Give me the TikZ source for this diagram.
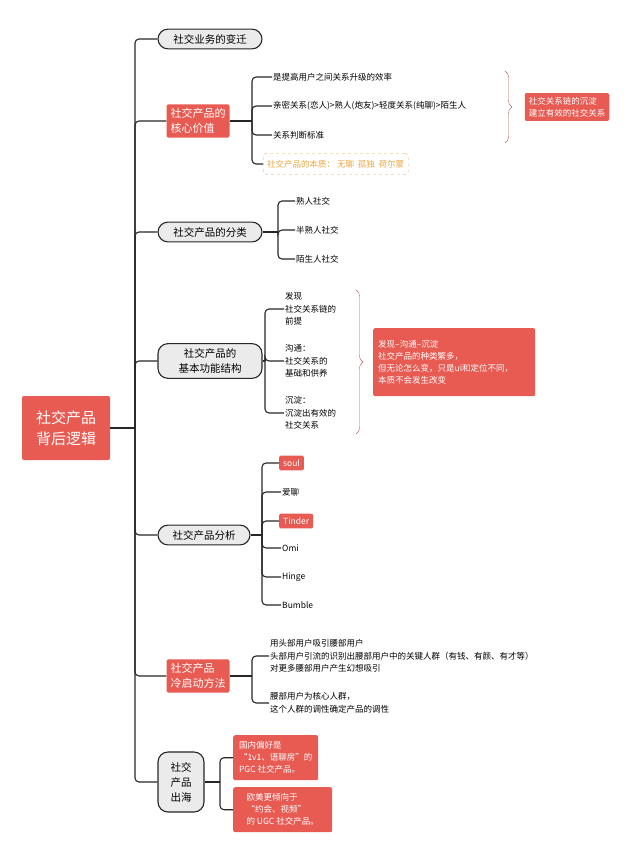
\documentclass[tikz,border=0pt]{standalone}
\usepackage{fontspec}
\setmainfont{Noto Sans CJK SC}
\usetikzlibrary{decorations.pathreplacing}
\definecolor{rd}{HTML}{E85B53}
\definecolor{gy}{HTML}{EBEBEB}
\definecolor{brc}{HTML}{B06060}
\definecolor{org}{HTML}{E8A640}
\begin{document}
\begin{tikzpicture}[x=1pt,y=-1pt,
  red/.style={fill=rd,text=white,rounded corners=2pt,inner sep=4pt,align=left,font=\fontsize{11}{15}\selectfont},
  redsm/.style={fill=rd,text=white,rounded corners=2pt,inner sep=4pt,align=left,font=\fontsize{8.5}{12}\selectfont},
  gray/.style={fill=gy,draw=black!85,line width=1.1pt,rounded corners=10pt,inner sep=5pt,align=center,font=\fontsize{10.5}{15}\selectfont},
  leaf/.style={anchor=west,inner sep=1pt,align=left,font=\fontsize{8.5}{12.5}\selectfont},
  ln/.style={draw=black!85,line width=1.1pt,rounded corners=4pt},
  br/.style={draw=brc,decorate,decoration={brace,amplitude=7pt}}]
\useasboundingbox (0,0) rectangle (640,856);
\node[red,font=\fontsize{15}{21}\selectfont,minimum width=88,minimum height=64,align=center] (root) at (66,428) {社交产品\\背后逻辑};
\node[gray,minimum width=104] (c1) at (210,39) {社交业务的变迁};
\node[red] (c2) at (198,121) {社交产品的\\核心价值};
\node[gray,minimum width=104] (c3) at (210,232) {社交产品的分类};
\node[gray,minimum width=104] (c4) at (210,361) {社交产品的\\基本功能结构};
\node[gray,minimum width=92] (c5) at (204,535) {社交产品分析};
\node[red] (c6) at (198,676) {社交产品\\冷启动方法};
\node[gray,minimum width=46,minimum height=60] (c7) at (181,782) {社交\\产品\\出海};
\coordinate (sp) at (135,428);
\draw[ln] (root.east) -- (sp);
\foreach \c in {c1,c2,c3,c4,c5,c6,c7} \draw[ln] (sp) |- (\c.west);
% c2
\node[leaf] (a1) at (272,77) {是提高用户之间关系升级的效率};
\node[leaf] (a2) at (272,106) {亲密关系(恋人)>熟人(炮友)>轻度关系(纯聊)>陌生人};
\node[leaf] (a3) at (272,135) {关系判断标准};
\node[leaf,draw=org,dashed,rounded corners=3pt,text=org,inner sep=4pt,minimum height=21] (a4) at (263,164) {社交产品的本质：\ 无聊\ \ 孤独\ \ 荷尔蒙};
\coordinate (b2) at (252,121);
\draw[ln] (c2.east) -- (b2);
\foreach \c in {a1,a2,a3,a4} \draw[ln] (b2) |- (\c.west);
\draw[br] (505,71) -- (505,143);
\node[redsm] (r2) at (567,107) {社交关系链的沉淀\\建立有效的社交关系};
% c3
\node[leaf] (s1) at (295,201) {熟人社交};
\node[leaf] (s2) at (295,230) {半熟人社交};
\node[leaf] (s3) at (295,259) {陌生人社交};
\coordinate (b3) at (278,232);
\draw[ln] (c3.east) -- (b3);
\foreach \c in {s1,s2,s3} \draw[ln] (b3) |- (\c.west);
% c4
\node[leaf] (f1) at (284,309) {发现\\社交关系链的\\前提};
\node[leaf] (f2) at (284,361) {沟通：\\社交关系的\\基础和供养};
\node[leaf] (f3) at (284,413) {沉淀：\\沉淀出有效的\\社交关系};
\coordinate (b4) at (265,361);
\draw[ln] (c4.east) -- (b4);
\foreach \c in {f1,f2,f3} \draw[ln] (b4) |- (\c.west);
\draw[br] (356,290) -- (356,434);
\node[redsm,minimum width=162,minimum height=68,anchor=north west,text width=152] (r4) at (373,328) {发现–沟通–沉淀\\社交产品的种类繁多，\\但无论怎么变，只是ui和定位不同，\\本质不会发生改变};
% c5
\node[leaf,fill=rd,text=white,inner sep=4pt,rounded corners=2pt] (p1) at (279,463) {soul};
\node[leaf] (p2) at (281,492) {爱聊};
\node[leaf,fill=rd,text=white,inner sep=4pt,rounded corners=2pt] (p3) at (279,521) {Tinder};
\node[leaf] (p4) at (281,548) {Omi};
\node[leaf] (p5) at (281,577) {Hinge};
\node[leaf] (p6) at (281,605) {Bumble};
\coordinate (b5) at (262,535);
\draw[ln] (c5.east) -- (b5);
\foreach \c in {p1,p2,p3,p4,p5,p6} \draw[ln] (b5) |- (\c.west);
% c6
\node[leaf] (k1) at (269,656) {用头部用户吸引腰部用户\\头部用户引流的识别出腰部用户中的关键人群（有钱、有颜、有才等）\\对更多腰部用户产生幻想吸引};
\node[leaf] (k2) at (269,703) {腰部用户为核心人群，\\这个人群的调性确定产品的调性};
\coordinate (b6) at (252,676);
\draw[ln] (c6.east) -- (b6);
\draw[ln] (b6) |- (k1.west);
\draw[ln] (b6) |- (k2.west);
% c7
\node[redsm,anchor=north west,minimum width=85,minimum height=45] (h1) at (233,735) {国内偏好是\\“1v1、语聊房”的\\PGC 社交产品。};
\node[redsm,anchor=north west,minimum width=99,minimum height=45] (h2) at (233,787) {欧美更倾向于\\“约会、视频”\\的 UGC 社交产品。};
\coordinate (b7) at (220,782);
\draw[ln] (c7.east) -- (b7);
\draw[ln] (b7) |- (h1.west);
\draw[ln] (b7) |- (h2.west);
\end{tikzpicture}
\end{document}
